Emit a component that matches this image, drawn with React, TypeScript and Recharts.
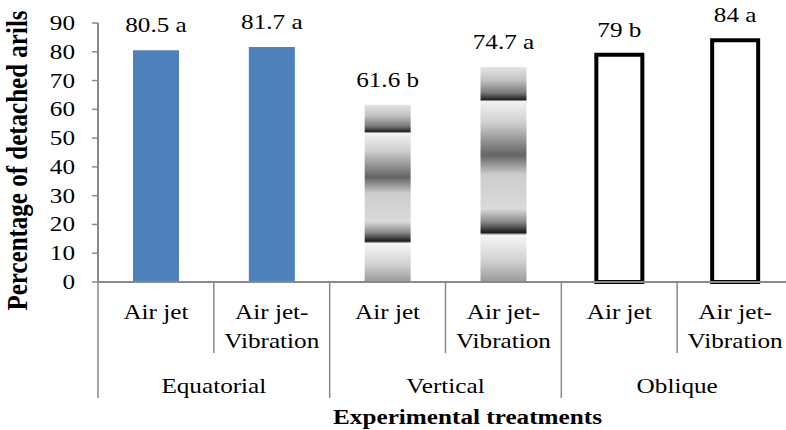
import { Bar, BarChart, Cell, LabelList, XAxis, YAxis } from "recharts";

const treatments = ["Air jet", "Air jet-Vibration", "Air jet", "Air jet-Vibration", "Air jet", "Air jet-Vibration"];
const groups = ["Equatorial", "Vertical", "Oblique"];
const detached = [80.5, 81.7, 61.6, 74.7, 79, 84];
const letters = ["a", "a", "b", "a", "b", "a"];
const yTicks = [0, 10, 20, 30, 40, 50, 60, 70, 80, 90];

const data = detached.map((v, i) => ({ id: i, value: v }));

const FONT = "Liberation Serif, Times New Roman, serif";
const SX = 1.2; // text in the source looks stretched sideways
const AXIS = "#8a8a8a";
const fills = ["#4F81BD", "url(#chrome)", "#ffffff"];

function SText({ x, y, anchor = "middle", bold = false, size = 21, children }: any) {
  return (
    <text
      transform={`translate(${x},${y}) scale(${SX},1)`}
      textAnchor={anchor}
      style={{ fontFamily: FONT, fontSize: size, fontWeight: bold ? 700 : 400 }}
      fill="#000"
    >
      {children}
    </text>
  );
}

function XTick(props: any) {
  const { x, y, payload, index } = props;
  const half = payload?.offset || 57.9;
  const i = index ?? payload.index;
  const lines = treatments[i].split(/(?<=-)/);
  const left = x - half;
  return (
    <g>
      <line x1={left} x2={left} y1={y} y2={i % 2 === 0 ? y + 116 : y + 71} stroke={AXIS} strokeWidth={1.5} />
      {i === treatments.length - 1 && (
        <line x1={x + half} x2={x + half} y1={y} y2={y + 116} stroke={AXIS} strokeWidth={1.5} />
      )}
      {lines.map((l: string, k: number) => (
        <SText key={k} x={x} y={y + 37 + k * 28.5}>
          {l}
        </SText>
      ))}
      {i % 2 === 1 && <SText x={left} y={y + 111}>{groups[(i - 1) / 2]}</SText>}
    </g>
  );
}

function YTick(props: any) {
  const { x, y, payload } = props;
  return (
    <SText x={x} y={y + 7} anchor="end">
      {payload.value}
    </SText>
  );
}

export default function App() {
  return (
    <div
      style={{
        position: "absolute",
        left: 0,
        top: 0,
        width: 786,
        height: 430,
        overflow: "hidden",
        background: "#fff",
        fontFamily: FONT,
      }}
    >
      <BarChart width={793} height={430} data={data} margin={{ top: 23, right: 0, bottom: 0, left: 0 }} barSize={46}>
        <defs>
          <linearGradient id="chrome" x1="0" y1="0" x2="0" y2="1">
            <stop offset="0" stopColor="#e4e4e4" />
            <stop offset="0.06" stopColor="#c4c4c4" />
            <stop offset="0.12" stopColor="#7a7a7a" />
            <stop offset="0.152" stopColor="#222222" />
            <stop offset="0.16" stopColor="#f2f2f2" />
            <stop offset="0.26" stopColor="#cfcfcf" />
            <stop offset="0.41" stopColor="#646464" />
            <stop offset="0.5" stopColor="#cdcdcd" />
            <stop offset="0.66" stopColor="#dadada" />
            <stop offset="0.72" stopColor="#8a8a8a" />
            <stop offset="0.77" stopColor="#1c1c1c" />
            <stop offset="0.782" stopColor="#f6f6f6" />
            <stop offset="0.9" stopColor="#d2d2d2" />
            <stop offset="1" stopColor="#999999" />
          </linearGradient>
        </defs>
        <XAxis
          dataKey="id"
          interval={0}
          height={148}
          tickSize={0}
          tickMargin={0}
          tickLine={false}
          axisLine={{ stroke: AXIS, strokeWidth: 2 }}
          tick={<XTick />}
          label={{
            content: (p: any) => {
              const vb = p.viewBox;
              return (
                <SText x={vb.x + vb.width / 2 + 22} y={424} bold>
                  Experimental treatments
                </SText>
              );
            },
          }}
        />
        <YAxis
          domain={[0, 90]}
          ticks={yTicks}
          width={98}
          tickSize={6}
          tickMargin={17}
          axisLine={{ stroke: AXIS, strokeWidth: 2 }}
          tickLine={{ stroke: AXIS, strokeWidth: 1.5 }}
          tick={<YTick />}
          label={{
            content: (p: any) => {
              const vb = p.viewBox;
              return (
                <text
                  transform={`translate(27,${vb.y + vb.height / 2 + 8}) scale(${SX},1) rotate(-90)`}
                  textAnchor="middle"
                  style={{ fontFamily: FONT, fontSize: 25, fontWeight: 700 }}
                  fill="#000"
                >
                  Percentage of detached arils
                </text>
              );
            },
          }}
        />
        <Bar dataKey="value" isAnimationActive={false}>
          {data.map((d) => {
            const g = Math.floor(d.id / 2);
            return (
              <Cell
                key={d.id}
                fill={fills[g]}
                stroke={g === 2 ? "#000" : "none"}
                strokeWidth={g === 2 ? 4 : 0}
              />
            );
          })}
          <LabelList
            dataKey="value"
            content={(p: any) => (
              <SText x={p.x + p.width / 2} y={p.y - 18}>
                {`${p.value} ${letters[p.index]}`}
              </SText>
            )}
          />
        </Bar>
      </BarChart>
    </div>
  );
}
